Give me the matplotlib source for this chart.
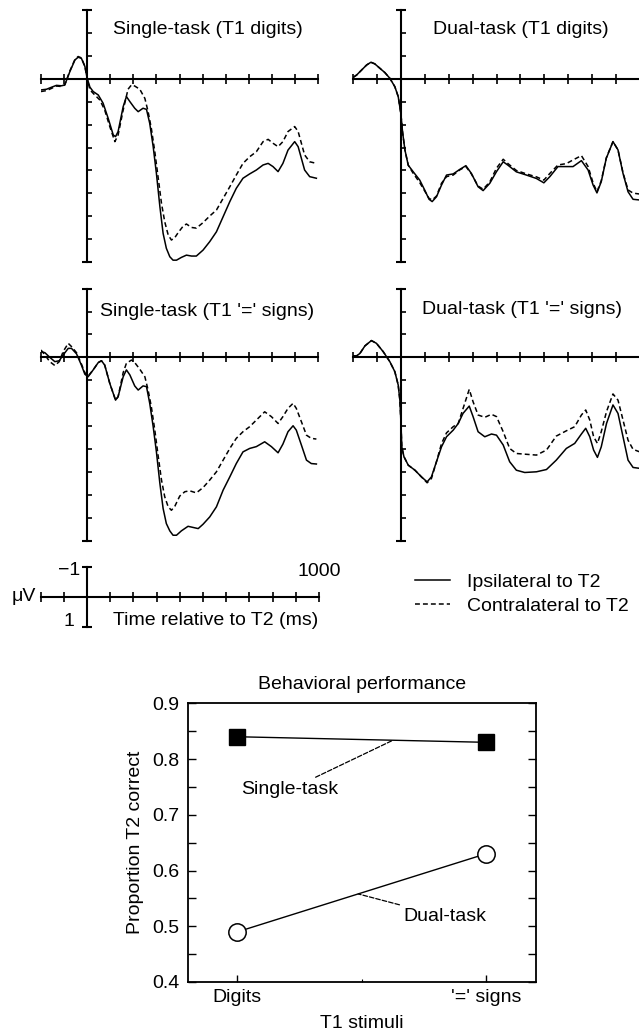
import matplotlib
matplotlib.use('Agg')
import matplotlib.pyplot as plt
from matplotlib.ticker import MultipleLocator, FixedLocator

plt.rcParams['font.family'] = ['Liberation Sans', 'DejaVu Sans']

### DATA (ERP amplitude in axis-tick units, positive plotted downward)

# Single-task, T1 digits
t_sd_ipsi = [-200, -176, -154, -133, -111, -97, -75, -53, -39, -25, -10, 0,
             12, 26, 48, 69, 91, 113, 123, 134, 156, 170,
             185, 206, 221, 242, 257, 271, 286, 300, 315, 329,
             343, 358, 372, 387, 408, 430, 452, 473, 502, 531,
             560, 589, 618, 646, 675, 704, 733, 762, 784, 805,
             827, 848, 870, 899, 914, 928, 942, 964, 993]
v_sd_ipsi = [0.48, 0.45, 0.36, 0.28, 0.30, 0.26, -0.32, -0.83, -0.95, -0.90, -0.55, -0.03,
             0.36, 0.55, 0.70, 1.06, 1.72, 2.45, 2.52, 2.30, 1.21, 0.77,
             0.99, 1.28, 1.43, 1.28, 1.33, 1.94, 2.96, 4.13, 5.58, 6.75,
             7.40, 7.77, 7.92, 7.92, 7.80, 7.70, 7.74, 7.74, 7.48, 7.11,
             6.68, 6.02, 5.36, 4.78, 4.34, 4.15, 3.98, 3.76, 3.69, 3.83,
             4.05, 3.69, 3.11, 2.74, 2.96, 3.47, 3.98, 4.27, 4.34]
t_sd_contra = [-200, -176, -154, -133, -111, -97, -75, -53, -39, -25, -10, 0,
               12, 33, 55, 76, 98, 120, 134, 156, 177, 192,
               206, 228, 250, 264, 278, 293, 307, 322, 336, 351,
               365, 380, 394, 416, 430, 452, 473, 502, 531, 560,
               589, 618, 646, 675, 704, 733, 762, 784, 805, 827,
               848, 870, 899, 914, 928, 942, 964, 993]
v_sd_contra = [0.55, 0.51, 0.41, 0.31, 0.33, 0.26, -0.35, -0.85, -0.98, -0.92, -0.55, -0.03,
               0.48, 0.70, 0.92, 1.36, 2.08, 2.74, 2.45, 1.36, 0.45, 0.26,
               0.31, 0.45, 0.85, 1.43, 2.16, 3.18, 4.27, 5.44, 6.24, 6.82,
               7.04, 6.93, 6.72, 6.43, 6.34, 6.49, 6.52, 6.28, 5.99, 5.73,
               5.22, 4.71, 4.20, 3.69, 3.40, 3.18, 2.74, 2.64, 2.81, 2.96,
               2.74, 2.30, 2.08, 2.30, 2.81, 3.32, 3.62, 3.69]

# Dual-task, T1 digits
t_dd = [-199, -185, -164, -143, -125, -109, -88, -67, -46, -25,
        -11, 0, 7, 17, 31, 52, 79, 100, 118, 131,
        149, 170, 191, 219, 247, 272, 295, 323, 344, 372,
        400, 428, 448, 483, 525, 567, 598, 623, 657, 692,
        720, 755, 783, 804, 820, 838, 859, 887, 908, 929,
        950, 971, 999]
v_dd_ipsi = [-0.07, -0.17, -0.39, -0.61, -0.73, -0.66, -0.47, -0.28, -0.03, 0.34,
             0.77, 1.50, 2.30, 3.10, 3.77, 4.06, 4.42, 4.86, 5.26, 5.36,
             5.15, 4.64, 4.20, 4.15, 3.95, 3.79, 4.13, 4.71, 4.88, 4.56,
             4.05, 3.62, 3.77, 4.06, 4.20, 4.35, 4.54, 4.27, 3.83, 3.83,
             3.83, 3.57, 3.98, 4.64, 4.98, 4.49, 3.47, 2.74, 3.10, 4.13,
             4.93, 5.26, 5.29]
v_dd_contra = [-0.07, -0.17, -0.39, -0.61, -0.73, -0.66, -0.47, -0.28, -0.03, 0.34,
               0.77, 1.50, 2.30, 3.10, 3.77, 4.13, 4.53, 4.90, 5.22, 5.29,
               5.12, 4.56, 4.27, 4.20, 3.97, 3.83, 4.15, 4.68, 4.82, 4.50,
               3.90, 3.51, 3.70, 4.00, 4.15, 4.28, 4.42, 4.13, 3.76, 3.70,
               3.54, 3.35, 3.83, 4.55, 4.93, 4.45, 3.45, 2.74, 3.10, 4.10,
               4.85, 4.99, 5.03]

# Single-task, T1 '=' signs
t_se_ipsi = [-200, -183, -162, -140, -121, -104, -82, -68, -46, -25,
             -10, 4, 26, 48, 62, 76, 98, 123, 134, 156,
             170, 185, 206, 221, 242, 257, 271, 286, 300, 315,
             329, 343, 358, 372, 387, 408, 437, 459, 481, 502,
             531, 560, 589, 618, 646, 675, 704, 733, 769, 798,
             827, 848, 870, 892, 906, 928, 950, 971, 993]
v_se_ipsi = [-0.25, -0.20, 0.00, 0.19, 0.15, -0.10, -0.39, -0.39, -0.15, 0.34,
             0.74, 0.85, 0.55, 0.23, 0.15, 0.34, 1.14, 1.87, 1.72, 0.85,
             0.55, 0.77, 1.25, 1.43, 1.25, 1.28, 2.01, 3.03, 4.13, 5.51,
             6.60, 7.26, 7.58, 7.77, 7.77, 7.58, 7.38, 7.43, 7.48, 7.29,
             6.97, 6.53, 5.80, 5.22, 4.64, 4.13, 3.98, 3.90, 3.69, 3.90,
             4.17, 3.79, 3.25, 2.99, 3.18, 3.83, 4.49, 4.64, 4.66]
t_se_contra = [-200, -183, -162, -140, -121, -104, -82, -68, -46, -25,
               -10, 4, 26, 48, 62, 76, 98, 123, 134, 156,
               170, 192, 206, 228, 250, 264, 278, 293, 307, 322,
               336, 351, 365, 380, 401, 423, 444, 473, 502, 531,
               560, 589, 618, 646, 675, 704, 733, 769, 798, 827,
               848, 870, 892, 906, 928, 950, 971, 993]
v_se_contra = [-0.32, -0.10, 0.19, 0.36, 0.19, -0.25, -0.61, -0.47, -0.20, 0.29,
               0.67, 0.82, 0.55, 0.23, 0.15, 0.34, 1.14, 1.87, 1.72, 0.67,
               0.26, 0.12, 0.23, 0.52, 0.85, 1.43, 2.16, 3.18, 4.27, 5.36,
               6.09, 6.53, 6.68, 6.50, 6.06, 5.87, 5.83, 5.92, 5.69, 5.36,
               5.00, 4.49, 3.98, 3.54, 3.25, 3.03, 2.74, 2.38, 2.59, 2.89,
               2.59, 2.23, 2.01, 2.23, 2.81, 3.40, 3.54, 3.57]

# Dual-task, T1 '=' signs
t_de = [-199, -185, -171, -150, -123, -102, -74, -46, -25, -11,
        -4, 0, 4, 13, 31, 59, 86, 110, 128, 149,
        170, 191, 219, 240, 260, 286, 302, 323, 351, 379,
        400, 428, 455, 483, 518, 567, 609, 650, 692, 727,
        755, 773, 790, 806, 822, 838, 860, 887, 908, 929,
        950, 971, 999]
v_de_ipsi = [-0.06, -0.06, -0.17, -0.50, -0.73, -0.61, -0.25, 0.19, 0.63, 1.21,
             1.87, 2.74, 3.91, 4.34, 4.71, 4.93, 5.22, 5.44, 5.22, 4.56,
             3.91, 3.47, 3.18, 2.89, 2.45, 2.13, 2.59, 3.25, 3.47, 3.35,
             3.40, 3.83, 4.56, 4.93, 5.03, 5.00, 4.90, 4.49, 3.98, 3.76,
             3.35, 3.10, 3.47, 4.05, 4.37, 3.91, 2.89, 2.08, 2.45, 3.47,
             4.49, 4.81, 4.85]
v_de_contra = [-0.06, -0.06, -0.17, -0.50, -0.73, -0.61, -0.25, 0.19, 0.63, 1.21,
               1.87, 2.74, 3.91, 4.34, 4.71, 4.93, 5.22, 5.48, 5.29, 4.56,
               3.77, 3.30, 3.03, 2.89, 2.24, 1.40, 1.94, 2.52, 2.62, 2.49,
               2.59, 3.25, 3.98, 4.20, 4.23, 4.27, 4.05, 3.44, 3.21, 3.03,
               2.52, 2.30, 2.74, 3.47, 3.76, 3.25, 2.37, 1.60, 1.87, 2.74,
               3.62, 4.02, 4.13]

# Behavioral performance
stimuli = ['Digits', "'=' signs"]
single_task = [0.84, 0.83]
dual_task = [0.49, 0.63]

### FIGURE

W, H = 639, 1036
FS = 14
fig = plt.figure(figsize=(W / 100, H / 100), dpi=100)


def px_axes(left, right, top, bottom):
    # axes placed from pixel coordinates (origin top-left)
    return fig.add_axes([left / W, 1 - bottom / H, (right - left) / W, (bottom - top) / H])


def erp_axes(left, right, top, bottom):
    ax = px_axes(left, right, top, bottom)
    ax.set_xlim(-200, 1000)
    ax.set_ylim(8, -3)
    ax.patch.set_visible(False)
    for s in ['top', 'right']:
        ax.spines[s].set_visible(False)
    ax.spines['left'].set_position(('data', 0))
    ax.spines['bottom'].set_position(('data', 0))
    for s in ['left', 'bottom']:
        ax.spines[s].set_linewidth(1.5)
    ax.xaxis.set_major_locator(MultipleLocator(100))
    ax.yaxis.set_major_locator(FixedLocator([-3, 8]))
    ax.yaxis.set_minor_locator(FixedLocator(range(-2, 8)))
    ax.tick_params(axis='x', which='major', direction='inout', length=7, width=1.2)
    ax.tick_params(axis='y', which='major', direction='inout', length=7, width=1.5)
    ax.tick_params(axis='y', which='minor', direction='in', length=3.6, width=1.2)
    ax.tick_params(labelbottom=False, labelleft=False)
    return ax


dash = (0, (3.2, 2.0))
lw = 1.1

ax1 = erp_axes(41, 318, 10.3, 262)
l_ipsi, = ax1.plot(t_sd_ipsi, v_sd_ipsi, color='black', lw=lw, label='Ipsilateral to T2')
l_contra, = ax1.plot(t_sd_contra, v_sd_contra, color='black', lw=lw, linestyle=dash,
                     label='Contralateral to T2')
ax1.text(112, -2.14, 'Single-task (T1 digits)', fontsize=FS, va='center')

ax2 = erp_axes(353, 640, 10.3, 262)
ax2.plot(t_dd, v_dd_ipsi, color='black', lw=lw)
ax2.plot(t_dd, v_dd_contra, color='black', lw=lw, linestyle=dash)
ax2.text(133, -2.14, 'Dual-task (T1 digits)', fontsize=FS, va='center')

ax3 = erp_axes(41, 318, 288.6, 540.5)
ax3.plot(t_se_ipsi, v_se_ipsi, color='black', lw=lw)
ax3.plot(t_se_contra, v_se_contra, color='black', lw=lw, linestyle=dash)
ax3.text(56, -2.0, "Single-task (T1 '=' signs)", fontsize=FS, va='center')

ax4 = erp_axes(353, 640, 288.6, 540.5)
ax4.plot(t_de, v_de_ipsi, color='black', lw=lw)
ax4.plot(t_de, v_de_contra, color='black', lw=lw, linestyle=dash)
ax4.text(87, -2.07, "Dual-task (T1 '=' signs)", fontsize=FS, va='center')

# Calibration axes
axs = px_axes(40.7, 319, 566.7, 626.7)
axs.set_xlim(-200, 1000)
axs.set_ylim(1, -1)
axs.patch.set_visible(False)
for s in ['top', 'right']:
    axs.spines[s].set_visible(False)
axs.spines['left'].set_position(('data', 0))
axs.spines['bottom'].set_position(('data', 0))
for s in ['left', 'bottom']:
    axs.spines[s].set_linewidth(1.5)
axs.xaxis.set_major_locator(MultipleLocator(100))
axs.yaxis.set_major_locator(FixedLocator([-1, 1]))
axs.tick_params(axis='x', direction='inout', length=7, width=1.2)
axs.tick_params(axis='y', direction='inout', length=7, width=1.5)
axs.tick_params(labelbottom=False, labelleft=False)
axs.text(-28, -0.88, '\u22121', fontsize=FS, ha='right', va='center')
axs.text(-55, 0.83, '1', fontsize=FS, ha='right', va='center')
axs.text(-222, 0.0, '\u03bcV', fontsize=FS, ha='right', va='center')
axs.text(1000, -0.85, '1000', fontsize=FS, ha='center', va='center')
axs.text(111, 0.78, 'Time relative to T2 (ms)', fontsize=FS, ha='left', va='center')

fig.legend([l_ipsi, l_contra], ['Ipsilateral to T2', 'Contralateral to T2'],
           loc='center left', bbox_to_anchor=(415 / W, 1 - 594 / H),
           frameon=False, fontsize=FS, handlelength=1.8, handletextpad=0.85,
           labelspacing=0.35, borderpad=0, borderaxespad=0)

### BEHAVIORAL PERFORMANCE

axb = px_axes(187.7, 535.7, 703.3, 982)
xpos = [0, 1]
axb.plot(xpos, single_task, color='black', lw=1.0, marker='s', markersize=11,
         markerfacecolor='black', markeredgecolor='black')
axb.plot(xpos, dual_task, color='black', lw=1.0, marker='o', markersize=12.5,
         markerfacecolor='white', markeredgecolor='black', markeredgewidth=1.1)
axb.set_xlim(-0.2, 1.2)
axb.set_ylim(0.4, 0.9)
axb.set_xticks(xpos)
axb.set_xticklabels(stimuli)
axb.xaxis.set_minor_locator(FixedLocator([0.5]))
axb.yaxis.set_major_locator(MultipleLocator(0.1))
axb.yaxis.set_minor_locator(MultipleLocator(0.05))
axb.tick_params(axis='y', which='both', direction='in', left=True, right=True,
                length=6, width=1.0, labelsize=FS, pad=6)
axb.tick_params(axis='x', which='major', direction='in', length=5, width=1.0,
                labelsize=FS, pad=5)
axb.tick_params(axis='x', which='minor', direction='in', length=2, width=0.8)
for s in axb.spines.values():
    s.set_linewidth(1.3)
axb.set_ylabel('Proportion T2 correct', fontsize=FS, labelpad=6)
axb.set_xlabel('T1 stimuli', fontsize=FS, labelpad=6.5)
axb.text(0.5, 1 + 19 / 278.7, 'Behavioral performance', transform=axb.transAxes,
         fontsize=FS, ha='center', va='center')

axb.annotate('Single-task', xy=(0.627, 0.834), xytext=(0.405, 0.745),
             ha='right', va='center', fontsize=FS,
             arrowprops=dict(arrowstyle='-', linestyle='--', lw=0.9, color='black',
                             shrinkA=2, shrinkB=0))
axb.annotate('Dual-task', xy=(0.486, 0.558), xytext=(0.668, 0.517),
             ha='left', va='center', fontsize=FS,
             arrowprops=dict(arrowstyle='-', linestyle='--', lw=0.9, color='black',
                             shrinkA=2, shrinkB=0))

fig.savefig('out.png', dpi=100)
